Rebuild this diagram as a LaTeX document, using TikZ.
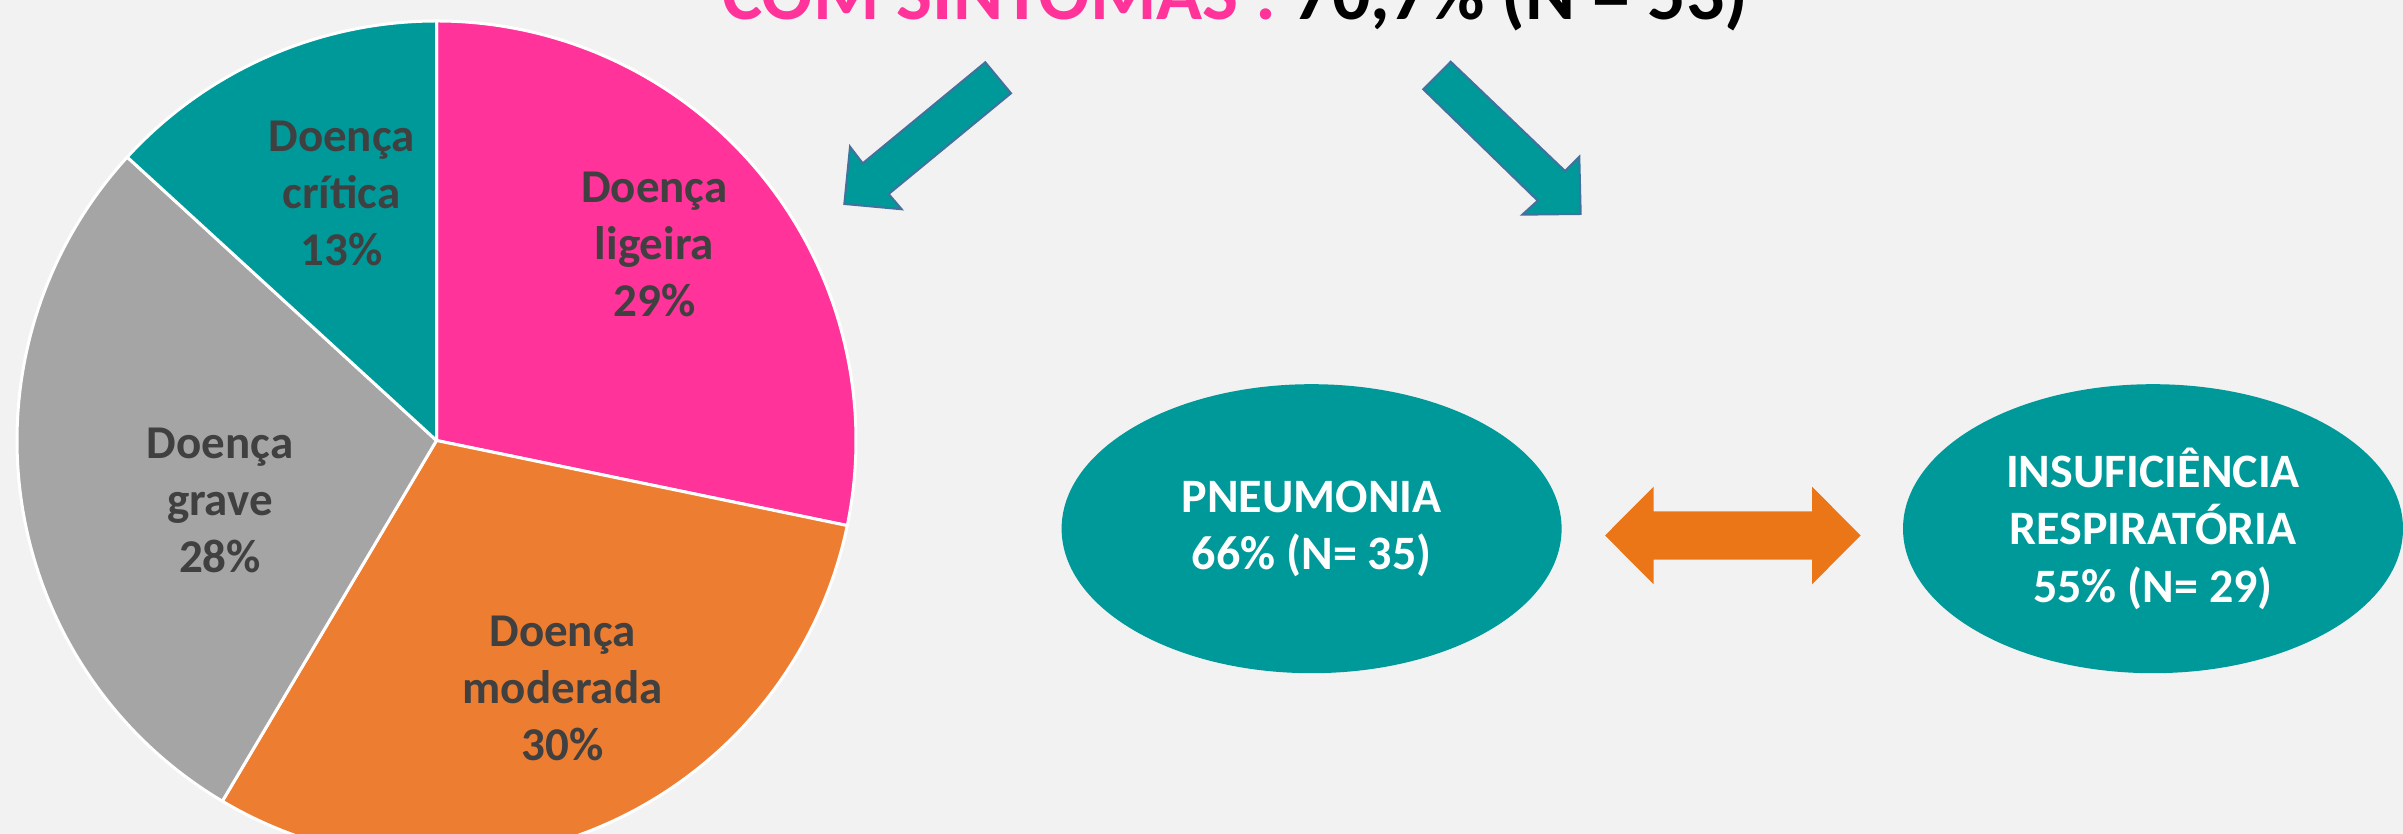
\documentclass[tikz,border=0pt]{standalone}
\usepackage{fontspec}
\setmainfont{Carlito}
\usetikzlibrary{shapes.geometric}
\definecolor{bgc}{HTML}{F2F2F2}
\definecolor{pinkc}{HTML}{FF3399}
\definecolor{orangec}{HTML}{ED7D31}
\definecolor{grayc}{HTML}{A5A5A5}
\definecolor{tealc}{HTML}{009999}
\definecolor{labc}{HTML}{404040}
\definecolor{arrowedge}{HTML}{41719C}
\definecolor{orangearrow}{HTML}{EB7617}
\begin{document}
\begin{tikzpicture}[x=1pt,y=1pt,
  slice/.style={draw=white, line width=3pt, line join=round},
  lbl/.style={text=labc, font=\fontsize{47}{57}\selectfont\bfseries, align=center, inner sep=0pt},
  ell/.style={ellipse, fill=tealc, minimum width=500pt, minimum height=289pt, inner sep=0pt,
              text=white, font=\fontsize{48}{57.5}\selectfont\bfseries, align=center},
  blockarrow/.style={fill=tealc, draw=arrowedge, line width=2pt, line join=miter},
  dblarrow/.style={fill=orangearrow}]
\useasboundingbox (0,0) rectangle (2403,834);
\clip (0,0) rectangle (2403,834);
\fill[bgc] (0,0) rectangle (2403,834);
% pie chart
\coordinate (pc) at (436.5,393.5);
\def\R{419.5}
\filldraw[fill=pinkc, slice] (pc) -- ++(90:\R) arc[start angle=90, end angle=-11.7, radius=\R] -- cycle;
\filldraw[fill=orangec, slice] (pc) -- ++(-11.7:\R) arc[start angle=-11.7, end angle=-120.7, radius=\R] -- cycle;
\filldraw[fill=grayc, slice] (pc) -- ++(-120.7:\R) arc[start angle=-120.7, end angle=-222.5, radius=\R] -- cycle;
\filldraw[fill=tealc, slice] (pc) -- ++(137.5:\R) arc[start angle=137.5, end angle=90, radius=\R] -- cycle;
\node[lbl] (lcrit) at (341.6,641) {Doença\\crítica\\13\%};
\node[lbl] (llig) at (654.4,590) {Doença\\ligeira\\29\%};
\node[lbl] (lgrave) at (220,334) {Doença\\grave\\28\%};
\node[lbl] (lmod) at (562.6,146) {Doença\\moderada\\30\%};
% title
\node[anchor=base west, inner sep=0pt, font=\fontsize{76}{80}\selectfont\bfseries] (title) at (722,814.7)
  {\textcolor{pinkc}{COM SINTOMAS :} 70,7\% (N = 53)};
% block arrows
\filldraw[blockarrow] (985.3,771.7) -- (1011,740.7) -- (888.7,640) -- (901.7,624.7) -- (844.3,630) -- (850,687.3) -- (862.7,670.7) -- cycle;
\filldraw[blockarrow] (1450.7,772.3) -- (1423.3,744.7) -- (1537.7,633.3) -- (1522.3,619.3) -- (1580.7,620) -- (1579.3,677.3) -- (1565,663) -- cycle;
% ellipses
\node[ell] (pneu) at (1311.6,305.3) {PNEUMONIA\\66\% (N= 35)};
\node[ell] (insuf) at (2153,305.3) {INSUFICIÊNCIA\\RESPIRATÓRIA\\55\% (N= 29)};
% double arrow
\fill[dblarrow] (1605,298.5) -- (1653.7,347.3) -- (1653.7,322.7) -- (1812,322.7) -- (1812,347.3) -- (1860.6,298.5)
  -- (1812,249.7) -- (1812,274.3) -- (1653.7,274.3) -- (1653.7,249.7) -- cycle;
\end{tikzpicture}
\end{document}
